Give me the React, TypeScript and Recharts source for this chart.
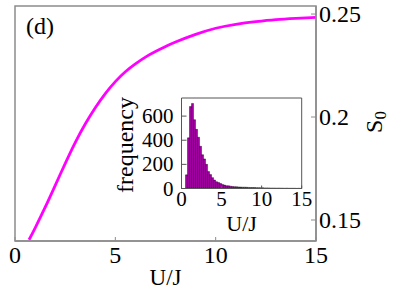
import {
    ComposedChart,
    Line,
    Bar,
    XAxis,
    YAxis,
    ReferenceArea,
    Label,
} from 'recharts'

// main curve: S0 vs U/J
const uValues = [0.7, 1.0, 1.5, 2.0, 2.5, 3.0, 3.5, 4.0, 4.5, 5.0, 5.5, 6.0, 6.5, 7.0, 7.5, 8.0, 9.0, 10.0, 11.0, 12.0, 13.0, 14.0, 15.0]
const s0Values = [0.1404, 0.1461, 0.1561, 0.1667, 0.1774, 0.1876, 0.1966, 0.2045, 0.2114, 0.2172, 0.222, 0.2258, 0.2291, 0.2318, 0.2342, 0.2364, 0.2401, 0.2431, 0.245, 0.2463, 0.2473, 0.2479, 0.2484]
const mainXTicks = [0, 5, 10, 15]
const mainYTicks = [0.15, 0.2, 0.25]

// inset histogram: bin start (width 0.25) and counts
const binStarts = [
    0.5, 0.75, 1.0, 1.25, 1.5, 1.75, 2.0, 2.25, 2.5, 2.75, 3.0, 3.25, 3.5, 3.75, 4.0, 4.25, 4.5, 4.75,
    5.0, 5.25, 5.5, 5.75, 6.0, 6.25, 6.5, 6.75, 7.0, 7.25, 7.5, 7.75, 8.0, 8.25, 8.5, 8.75, 9.0, 9.25,
    9.5, 9.75, 10.0, 10.25, 10.5, 10.75, 11.0, 11.25, 11.5, 11.75, 12.0, 12.25, 12.5, 12.75, 13.0, 13.25,
    13.5, 13.75, 14.0, 14.25, 14.5, 14.75,
]
const binCounts = [
    113, 420, 680, 705, 570, 490, 425, 350, 280, 245, 200, 140, 115, 90, 70, 56, 50, 42,
    34, 28, 23, 22, 19, 16, 15, 14, 13, 12, 11, 11, 10, 9, 8, 8, 8, 7,
    7, 6, 6, 5, 5, 5, 4, 4, 4, 3, 4, 3, 3, 2, 3, 2,
    2, 2, 2, 1, 2, 1,
]
const insetXTicks = [0, 5, 10, 15]
const insetYTicks = [0, 200, 400, 600]

const BIN_WIDTH = 0.25
const FONT = '"Liberation Serif", "DejaVu Serif", serif'
const AXIS = '#8c8c8c'
const INSET_AXIS = '#555'

const curveData = uValues.map((u, i) => ({ u, s: s0Values[i] }))
const histData = binStarts.map((b, i) => ({ u: b + BIN_WIDTH / 2, count: binCounts[i] }))

const Y_MIN = 0.1398
const Y_MAX = 0.2539

// ticks point inward, labels stay outside
const BottomTick = ({ x, y, payload, size, len, dy, color }: any) => (
    <g>
        <line x1={x} y1={y} x2={x} y2={y - len} stroke={color} strokeWidth={1} />
        <text x={x} y={y + dy} textAnchor="middle" dominantBaseline="central"
            fontFamily={FONT} fontSize={size} fill="#000">
            {payload.value}
        </text>
    </g>
)

const RightTick = ({ x, y, payload }: any) => (
    <g>
        <line x1={x} y1={y} x2={x - 5} y2={y} stroke={AXIS} strokeWidth={1} />
        <text x={x + 3} y={y} textAnchor="start" dominantBaseline="central"
            fontFamily={FONT} fontSize={24} fill="#000">
            {String(payload.value)}
        </text>
    </g>
)

const LeftTick = ({ x, y, payload }: any) => (
    <g>
        <line x1={x} y1={y} x2={x + 5} y2={y} stroke={INSET_AXIS} strokeWidth={1} />
        <text x={x - 8} y={y} textAnchor="end" dominantBaseline="central"
            fontFamily={FONT} fontSize={21} fill="#000">
            {payload.value}
        </text>
    </g>
)

export default function App() {
    return (
        <div style={{ position: 'absolute', left: 0, top: 0, width: 415, height: 294, background: '#fff' }}>
            {/* main chart */}
            <div style={{ position: 'absolute', left: 0, top: 0 }}>
                <ComposedChart width={415} height={294} data={curveData}
                    margin={{ top: 6, left: 15, right: 0, bottom: 0 }}>
                    <XAxis
                        type="number"
                        dataKey="u"
                        domain={[0, 15]}
                        ticks={mainXTicks}
                        allowDataOverflow
                        height={53}
                        tickSize={0}
                        tickMargin={0}
                        axisLine={{ stroke: AXIS, strokeWidth: 1.5 }}
                        tick={<BottomTick size={24} len={4} dy={14} color={AXIS} />}
                    >
                        <Label value="U/J" position="insideBottom" offset={9}
                            style={{ fontFamily: FONT, fontSize: 23, fill: '#000' }} />
                    </XAxis>
                    <YAxis
                        orientation="right"
                        type="number"
                        domain={[Y_MIN, Y_MAX]}
                        ticks={mainYTicks}
                        allowDataOverflow
                        width={99}
                        tickSize={0}
                        tickMargin={0}
                        axisLine={{ stroke: AXIS, strokeWidth: 1.5 }}
                        tick={<RightTick />}
                    >
                        <Label
                            content={() => (
                                <text transform="translate(374,122) rotate(-90)" textAnchor="middle"
                                    dominantBaseline="central" fontFamily={FONT} fontSize={24} fill="#000">
                                    S<tspan fontSize={17} dy={6}>0</tspan>
                                </text>
                            )}
                        />
                    </YAxis>
                    <ReferenceArea x1={0} x2={15} y1={Y_MIN} y2={Y_MAX} fill="none" fillOpacity={0}
                        stroke={AXIS} strokeWidth={1.5}
                        label={{ value: '(d)', position: 'insideTopLeft', offset: 11,
                            style: { fontFamily: FONT, fontSize: 24, fill: '#000' } }} />
                    <Line
                        type="natural"
                        dataKey="s"
                        stroke="#ff00ff"
                        strokeWidth={2.8}
                        dot={false}
                        isAnimationActive={false}
                    />
                </ComposedChart>
            </div>

            {/* inset histogram */}
            <div style={{ position: 'absolute', left: 0, top: 0 }}>
                <ComposedChart width={415} height={294} data={histData} barCategoryGap={0} barGap={0}
                    margin={{ top: 98, left: 121.5, right: 113.3, bottom: 55.5 }}>
                    <XAxis
                        type="number"
                        dataKey="u"
                        domain={[0, 15]}
                        ticks={insetXTicks}
                        allowDataOverflow
                        height={50}
                        tickSize={0}
                        tickMargin={0}
                        axisLine={{ stroke: INSET_AXIS, strokeWidth: 1 }}
                        tick={<BottomTick size={21} len={3} dy={10} color={INSET_AXIS} />}
                    >
                        <Label value="U/J" position="insideBottom" offset={8}
                            style={{ fontFamily: FONT, fontSize: 22, fill: '#000' }} />
                    </XAxis>
                    <YAxis
                        type="number"
                        domain={[0, 750]}
                        ticks={insetYTicks}
                        allowDataOverflow
                        width={60}
                        tickSize={0}
                        tickMargin={0}
                        axisLine={{ stroke: INSET_AXIS, strokeWidth: 1 }}
                        tick={<LeftTick />}
                    >
                        <Label
                            content={() => (
                                <text transform="translate(125,145) rotate(-90)" textAnchor="middle"
                                    dominantBaseline="central" fontFamily={FONT} fontSize={24} fill="#000">
                                    frequency
                                </text>
                            )}
                        />
                    </YAxis>
                    <ReferenceArea x1={0} x2={15} y1={0} y2={750} fill="none" fillOpacity={0}
                        stroke={INSET_AXIS} strokeWidth={1} />
                    <Bar
                        dataKey="count"
                        fill="#a000a0"
                        stroke="#000"
                        strokeWidth={0.4}
                        isAnimationActive={false}
                    />
                </ComposedChart>
            </div>
        </div>
    )
}
